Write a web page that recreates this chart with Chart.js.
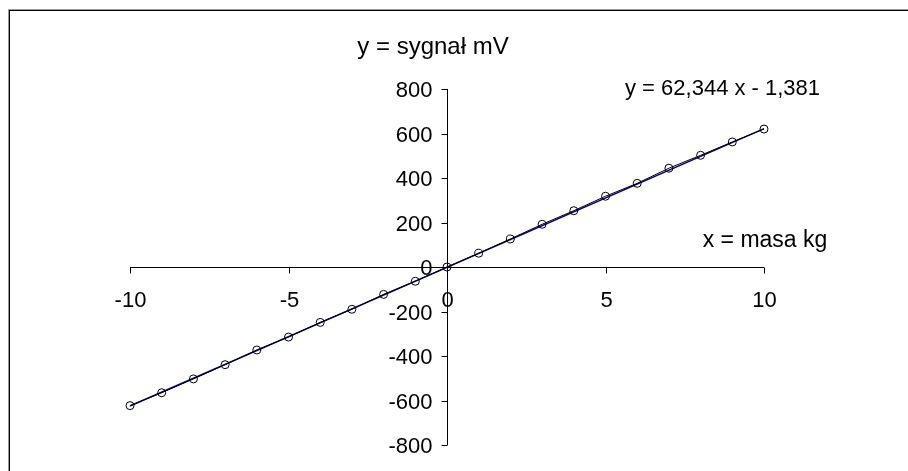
<!DOCTYPE html>
<html>
<head>
<meta charset="utf-8">
<script src="https://cdn.jsdelivr.net/npm/chart.js@4"></script>
<style>
  html, body { margin: 0; padding: 0; background: #fff; }
  #wrap { width: 908px; height: 471px; }
</style>
</head>
<body>
<div id="wrap"><canvas id="massChart" width="908" height="471"></canvas></div>
<script>
const masa = [-10, -9, -8, -7, -6, -5, -4, -3, -2, -1, 0, 1, 2, 3, 4, 5, 6, 7, 8, 9, 10];
const sygnal = [-623, -565, -503, -439, -373, -315, -249, -190, -123, -64, 0,
                62, 126, 192, 253, 318, 376, 444, 502, 562, 620];
const xTicks = [-10, -5, 0, 5, 10];
const yTicks = [800, 600, 400, 200, 0, -200, -400, -600, -800];
const slope = 62.344;
const intercept = -1.381;
const equationLabel = 'y = 62,344 x - 1,381';
const yTitle = 'y = sygnał mV';
const xTitle = 'x = masa kg';

const FONT = '"Liberation Sans", Arial, sans-serif';

document.addEventListener('DOMContentLoaded', function () {
    const points = masa.map((m, i) => ({ x: m, y: sygnal[i] }));
    const xMin = Math.min(...masa), xMax = Math.max(...masa);
    const trend = [xMin, xMax].map(x => ({ x: x, y: slope * x + intercept }));

    // draws the frame, the crossing axes and all texts (Excel style)
    const excelAxes = {
        id: 'excelAxes',
        beforeDatasetsDraw(chart) {
            const ctx = chart.ctx;
            const xs = chart.scales.x, ys = chart.scales.y;
            const x0 = Math.round(xs.getPixelForValue(0)) + 0.5;
            const y0 = Math.round(ys.getPixelForValue(0)) + 0.5;
            ctx.save();

            // outer frame (cut off at right and bottom)
            ctx.lineWidth = 1;
            ctx.strokeStyle = '#9a9a9a';
            ctx.strokeRect(8.5, 9.5, 1000, 1000);
            ctx.strokeStyle = '#000';
            ctx.strokeRect(9.5, 10.5, 1000, 1000);

            // axis lines
            ctx.beginPath();
            ctx.moveTo(xs.left, y0);
            ctx.lineTo(xs.right, y0);
            ctx.moveTo(x0, ys.top);
            ctx.lineTo(x0, ys.bottom);
            ctx.stroke();

            ctx.fillStyle = '#000';
            ctx.font = '22px ' + FONT;

            // x ticks
            ctx.textAlign = 'center';
            ctx.textBaseline = 'middle';
            xTicks.forEach(v => {
                const px = Math.round(xs.getPixelForValue(v)) + 0.5;
                ctx.beginPath();
                ctx.moveTo(px, y0);
                ctx.lineTo(px, y0 + 6);
                ctx.stroke();
                ctx.fillText(String(v), px, y0 + 33);
            });

            // y ticks
            ctx.textAlign = 'right';
            yTicks.forEach(v => {
                const py = Math.round(ys.getPixelForValue(v)) + 0.5;
                ctx.beginPath();
                ctx.moveTo(x0 - 6, py);
                ctx.lineTo(x0, py);
                ctx.stroke();
                ctx.fillText(String(v), x0 - 15, py + 1);
            });

            // trendline label
            ctx.textAlign = 'left';
            ctx.fillText(equationLabel, 625, 89);

            // axis titles
            ctx.textAlign = 'center';
            ctx.font = '24px ' + FONT;
            ctx.fillText(yTitle, 433, 47);
            ctx.font = '23px ' + FONT;
            ctx.fillText(xTitle, 765, 241);
            ctx.restore();
        }
    };

    const config = {
        type: 'scatter',
        data: {
            datasets: [{
                label: 'trend',
                data: trend,
                showLine: true,
                borderColor: '#000080',
                borderWidth: 1.5,
                pointRadius: 0,
                order: 2
            }, {
                label: 'pomiar',
                data: points,
                showLine: true,
                borderColor: '#000',
                borderWidth: 1,
                pointRadius: 4,
                pointBorderWidth: 1,
                pointBorderColor: '#000',
                pointBackgroundColor: 'rgba(255,255,255,0)',
                order: 1
            }]
        },
        options: {
            responsive: false,
            animation: false,
            clip: false,
            layout: {
                padding: { left: 130, right: 144, top: 89, bottom: 26 }
            },
            scales: {
                x: { type: 'linear', min: -10, max: 10, display: false },
                y: { type: 'linear', min: -800, max: 800, display: false }
            },
            plugins: {
                legend: { display: false },
                tooltip: { enabled: false }
            }
        },
        plugins: [excelAxes]
    };

    new Chart(document.getElementById('massChart'), config);
});
</script>
</body>
</html>
